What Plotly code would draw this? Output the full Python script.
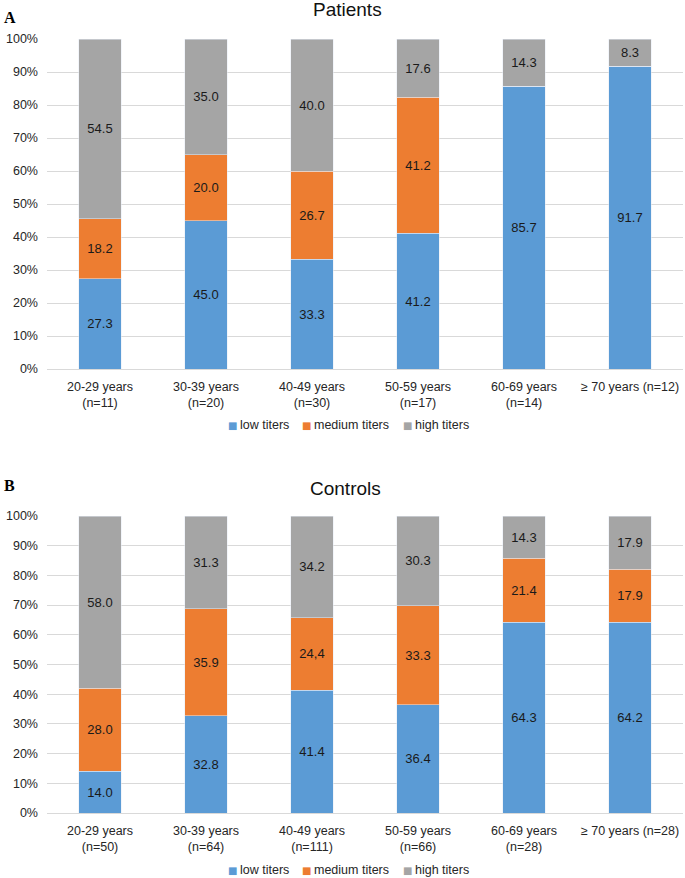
import plotly.graph_objects as go
from plotly.subplots import make_subplots

categories_a = ["20-29 years<br>(n=11)", "30-39 years<br>(n=20)", "40-49 years<br>(n=30)",
                "50-59 years<br>(n=17)", "60-69 years<br>(n=14)", "≥ 70 years (n=12)"]
categories_b = ["20-29 years<br>(n=50)", "30-39 years<br>(n=64)", "40-49 years<br>(n=111)",
                "50-59 years<br>(n=66)", "60-69 years<br>(n=28)", "≥ 70 years (n=28)"]

patients_low = [27.3, 45.0, 33.3, 41.2, 85.7, 91.7]
patients_medium = [18.2, 20.0, 26.7, 41.2, 0, 0]
patients_high = [54.5, 35.0, 40.0, 17.6, 14.3, 8.3]

controls_low = [14.0, 32.8, 41.4, 36.4, 64.3, 64.2]
controls_medium = [28.0, 35.9, 24.4, 33.3, 21.4, 17.9]
controls_high = [58.0, 31.3, 34.2, 30.3, 14.3, 17.9]
controls_medium_labels = ["28.0", "35.9", "24,4", "33.3", "21.4", "17.9"]

series_names = ["low titers", "medium titers", "high titers"]
colors = ["#5B9BD5", "#ED7D31", "#A5A5A5"]

FONT = "Liberation Sans, Arial, sans-serif"
TXT = "#262626"

def labels(vals):
    return ["" if v == 0 else f"{v:.1f}" for v in vals]

fig = make_subplots(rows=2, cols=1)

panel_a = [patients_low, patients_medium, patients_high]
panel_b = [controls_low, controls_medium, controls_high]
for i, (name, col) in enumerate(zip(series_names, colors)):
    fig.add_trace(go.Bar(x=categories_a, y=panel_a[i], name=name, marker_color=col,
                         text=labels(panel_a[i]), textposition="inside", insidetextanchor="middle",
                         textangle=0, textfont=dict(color="#1a1a1a", size=13, family=FONT),
                         showlegend=False, hoverinfo="skip"), row=1, col=1)
for i, (name, col) in enumerate(zip(series_names, colors)):
    txt = controls_medium_labels if i == 1 else labels(panel_b[i])
    fig.add_trace(go.Bar(x=categories_b, y=panel_b[i], name=name, marker_color=col,
                         text=txt, textposition="inside", insidetextanchor="middle",
                         textangle=0, textfont=dict(color="#1a1a1a", size=13, family=FONT),
                         showlegend=False, hoverinfo="skip"), row=2, col=1)

H = 878.0
W = 685.0
def py(px):
    return 1 - px / H
def px_(x):
    return x / W

axis_common = dict(range=[0, 100], dtick=10, ticksuffix="%", showgrid=True, gridcolor="#D9D9D9",
                   gridwidth=1, zeroline=False, showline=False, automargin=False,
                   tickfont=dict(size=12.5, family=FONT, color=TXT), ticklabelstandoff=8)
xaxis_common = dict(showline=True, linecolor="#D9D9D9", linewidth=1, showgrid=False,
                    automargin=False,
                    tickfont=dict(size=12.5, family=FONT, color=TXT), ticklabelstandoff=6,
                    tickangle=0)

fig.update_layout(
    width=685, height=878,
    margin=dict(l=0, r=0, t=0, b=0),
    plot_bgcolor="white", paper_bgcolor="white",
    barmode="stack", bargap=0.595,
    font=dict(family=FONT, size=12, color=TXT),
    xaxis=dict(domain=[px_(47), px_(683)], **xaxis_common),
    xaxis2=dict(domain=[px_(47), px_(683)], **xaxis_common),
    yaxis=dict(domain=[py(369), py(39)], **axis_common),
    yaxis2=dict(domain=[py(813), py(516)], **axis_common),
    showlegend=False,
)

# titles and panel letters
fig.add_annotation(text="Patients", x=px_(347), y=py(22), xref="paper", yref="paper",
                   yanchor="bottom", showarrow=False, font=dict(size=19, family=FONT, color="#111111"))
fig.add_annotation(text="Controls", x=px_(345), y=py(501), xref="paper", yref="paper",
                   yanchor="bottom", showarrow=False, font=dict(size=19, family=FONT, color="#111111"))
fig.add_annotation(text="<b>A</b>", x=px_(2), y=py(28), xref="paper", yref="paper",
                   xanchor="left", yanchor="bottom", showarrow=False,
                   font=dict(size=16, family="Liberation Serif, Times New Roman, serif", color="#000000"))
fig.add_annotation(text="<b>B</b>", x=px_(2), y=py(496), xref="paper", yref="paper",
                   xanchor="left", yanchor="bottom", showarrow=False,
                   font=dict(size=16, family="Liberation Serif, Times New Roman, serif", color="#000000"))

# legends (one per panel)
legend_sq_x = [232, 306, 407]
legend_txt_x = [238, 312, 413]
for ly in (425, 870):
    for name, col, sx, tx in zip(series_names, colors, legend_sq_x, legend_txt_x):
        fig.add_annotation(text="■", x=px_(sx), y=py(ly), xref="paper", yref="paper",
                           xanchor="center", yanchor="middle", showarrow=False,
                           font=dict(size=10, family="DejaVu Sans", color=col))
        fig.add_annotation(text=name, x=px_(tx), y=py(ly), xref="paper", yref="paper",
                           xanchor="left", yanchor="middle", showarrow=False,
                           font=dict(size=12.5, family=FONT, color=TXT))

fig.write_html("out.html", config={"displayModeBar": False},
               post_script="document.body.style.margin='0';document.body.style.overflow='hidden';")
